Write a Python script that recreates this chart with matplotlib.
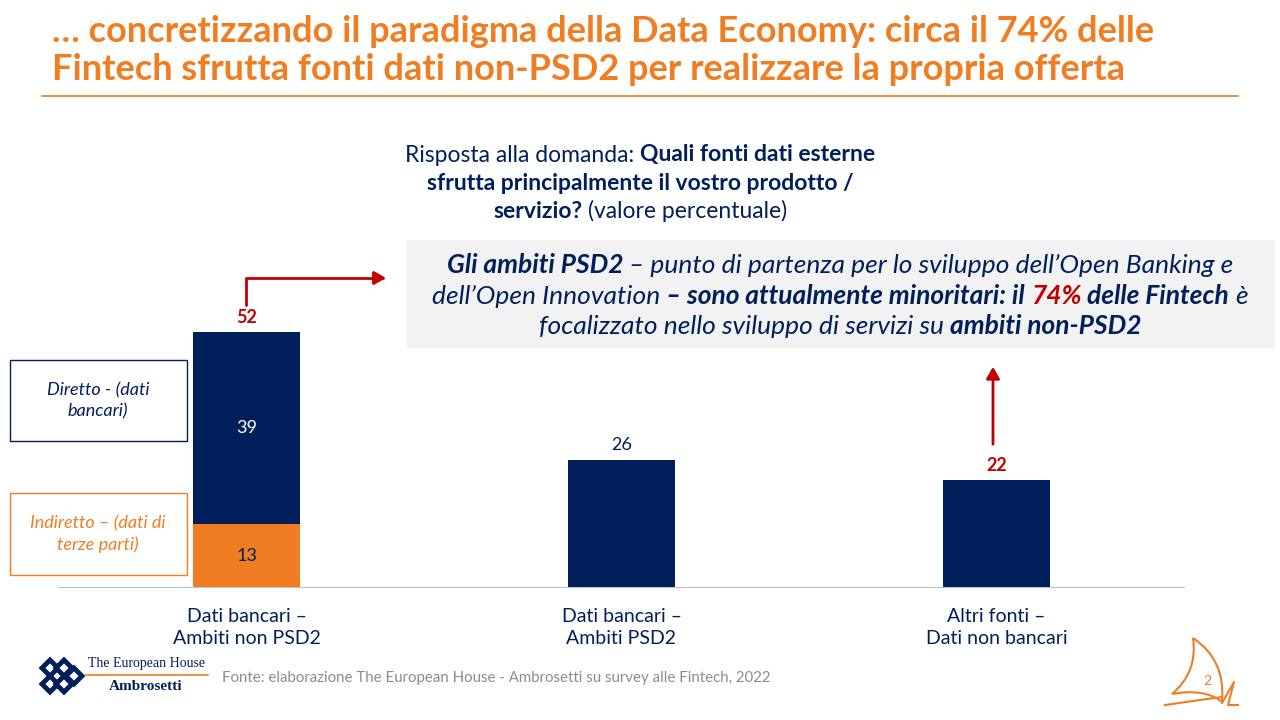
import numpy as np
import matplotlib.pyplot as plt
from matplotlib.patches import Rectangle, FancyArrowPatch, PathPatch, RegularPolygon
from matplotlib.path import Path

# data
categories = ['Dati bancari –\nAmbiti non PSD2', 'Dati bancari –\nAmbiti PSD2', 'Altri fonti –\nDati non bancari']
indiretto = [13, 0, 0]
diretto = [39, 26, 22]
totals = [a + b for a, b in zip(indiretto, diretto)]

ORANGE = '#F07D22'
NAVY = '#001F5B'
RED = '#C00000'
GREY = '#F2F2F2'
FONT = 'Lato'

fig = plt.figure(figsize=(12.8, 7.2), dpi=100)
bg = fig.add_axes([0, 0, 1, 1])
bg.set_xlim(0, 1280)
bg.set_ylim(720, 0)
bg.axis('off')
renderer = fig.canvas.get_renderer()


def space_width(props):
    t1 = bg.text(0, 0, 'x x', **props)
    t2 = bg.text(0, 0, 'xx', **props)
    w = t1.get_window_extent(renderer).width - t2.get_window_extent(renderer).width
    t1.remove()
    t2.remove()
    return w


def draw_runs(xc, y, runs, base):
    # runs: list of (text, extra props); a leading space means a gap
    items = []
    for s, extra in runs:
        props = dict(base, **extra)
        gap = space_width(props) if s.startswith(' ') else 0
        t = bg.text(0, y, s.strip(), va='center', ha='left', **props)
        items.append((t, gap, t.get_window_extent(renderer).width))
    total = sum(g + w for _, g, w in items)
    x = xc - total / 2
    for t, g, w in items:
        x += g
        t.set_x(x)
        x += w


# title
title_kw = dict(family=FONT, weight='bold', size=26, color=ORANGE)
bg.text(52, 32, '… concretizzando il paradigma della Data Economy: circa il 74% delle',
        va='center', ha='left', **title_kw)
bg.text(52, 70, 'Fintech sfrutta fonti dati non-PSD2 per realizzare la propria offerta',
        va='center', ha='left', **title_kw)
bg.plot([42, 1238], [96, 96], color=ORANGE, lw=1.2)

# question
q = dict(family=FONT, size=16.5, color=NAVY)
B = {'weight': 'bold'}
draw_runs(640, 155, [('Risposta alla domanda:', {}), (' Quali fonti dati esterne', B)], q)
draw_runs(640, 184, [('sfrutta principalmente il vostro prodotto /', B)], q)
draw_runs(640, 211, [('servizio?', B), (' (valore percentuale)', {})], q)

# grey call-out box
bg.add_patch(Rectangle((407, 240), 868, 108, facecolor=GREY, edgecolor='none'))
bx = dict(family=FONT, size=19, color=NAVY, style='italic')
BI = {'weight': 'bold'}
draw_runs(840, 265, [('Gli ambiti PSD2', BI), (' – punto di partenza per lo sviluppo dell’Open Banking e', {})], bx)
draw_runs(840, 296, [('dell’Open Innovation', {}), (' – sono attualmente minoritari: il', BI),
                     (' 74%', dict(weight='bold', color=RED)), (' delle Fintech', BI), (' è', {})], bx)
draw_runs(840, 326, [('focalizzato nello sviluppo di servizi su', {}), (' ambiti non-PSD2', BI)], bx)

# chart
ax = fig.add_axes([58 / 1280, (720 - 588) / 720, 1127 / 1280, 295 / 720])
x = np.arange(len(categories))
w = 0.285
ax.bar(x, indiretto, w, color=ORANGE)
ax.bar(x, diretto, w, bottom=indiretto, color=NAVY)
ax.set_xlim(-0.503, 2.503)
ax.set_ylim(0, 60)
ax.axis('off')
ax.axhline(0, color='#BFBFBF', lw=1.5)

lab = dict(family=FONT, size=13, ha='center', va='center')
ax.text(x[0], indiretto[0] / 2, str(indiretto[0]), color=NAVY, **lab)
ax.text(x[0], indiretto[0] + diretto[0] / 2, str(diretto[0]), color='white', **lab)
ax.text(x[0], totals[0] + 3, str(totals[0]), color=RED, weight='bold', **lab)
ax.text(x[1], totals[1] + 3, str(totals[1]), color=NAVY, **lab)
ax.text(x[2], totals[2] + 3, str(totals[2]), color=RED, weight='bold', **lab)

for i, c in enumerate(categories):
    ax.text(x[i], -4, c, color=NAVY, family=FONT, size=14, ha='center', va='top', linespacing=1.4)

# arrows
bg.add_patch(FancyArrowPatch(path=Path([(246, 305), (246, 278), (386, 278)]),
                             arrowstyle='-|>,head_length=7,head_width=4', color=RED, lw=2))
bg.add_patch(FancyArrowPatch((993, 447), (993, 364),
                             arrowstyle='-|>,head_length=7,head_width=4', color=RED, lw=2))

# side boxes
bg.add_patch(Rectangle((10, 360), 177, 81, facecolor='white', edgecolor=NAVY, lw=1))
bg.text(98, 401, 'Diretto - (dati\nbancari)', color=NAVY, family=FONT, style='italic',
        size=13, ha='center', va='center', linespacing=1.35)
bg.add_patch(Rectangle((10, 493), 177, 82, facecolor='white', edgecolor=ORANGE, lw=1))
bg.text(98, 534, 'Indiretto – (dati di\nterze parti)', color=ORANGE, family=FONT, style='italic',
        size=13, ha='center', va='center', linespacing=1.35)

# footer logo
for cx, cy in [(50, 668), (50, 684), (64, 668), (64, 684), (74, 676)]:
    bg.add_patch(RegularPolygon((cx, cy), 4, radius=8, orientation=0,
                                facecolor='white', edgecolor=NAVY, lw=3.5))
bg.text(146, 664, 'The European House', family='Liberation Serif', size=10, color=NAVY,
        ha='center', va='center')
bg.plot([86, 208], [675, 675], color=ORANGE, lw=1.2)
bg.text(146, 687, 'Ambrosetti', family='Liberation Serif', weight='bold', size=11, color=NAVY,
        ha='center', va='center')
bg.text(222, 678, 'Fonte: elaborazione The European House - Ambrosetti su survey alle Fintech, 2022',
        family=FONT, size=10.8, color='#8C8C8C', ha='left', va='center')

# sail + page number
sail = Path([(1193, 638), (1226, 660), (1222, 702),
             (1205, 688), (1172, 694),
             (1198, 672), (1193, 638)],
            [Path.MOVETO, Path.CURVE3, Path.CURVE3,
             Path.CURVE3, Path.CURVE3,
             Path.CURVE3, Path.CURVE3])
bg.add_patch(PathPatch(sail, facecolor='none', edgecolor=ORANGE, lw=1.5))
bg.plot([1165, 1200, 1222], [705, 700, 697], color=ORANGE, lw=1.5)
bg.plot([1222, 1234, 1228, 1238], [703, 682, 705, 705], color=ORANGE, lw=1.5)
bg.text(1207, 681, '2', color=ORANGE, family=FONT, size=10, ha='center', va='center')

fig.savefig('out.png', dpi=100)
